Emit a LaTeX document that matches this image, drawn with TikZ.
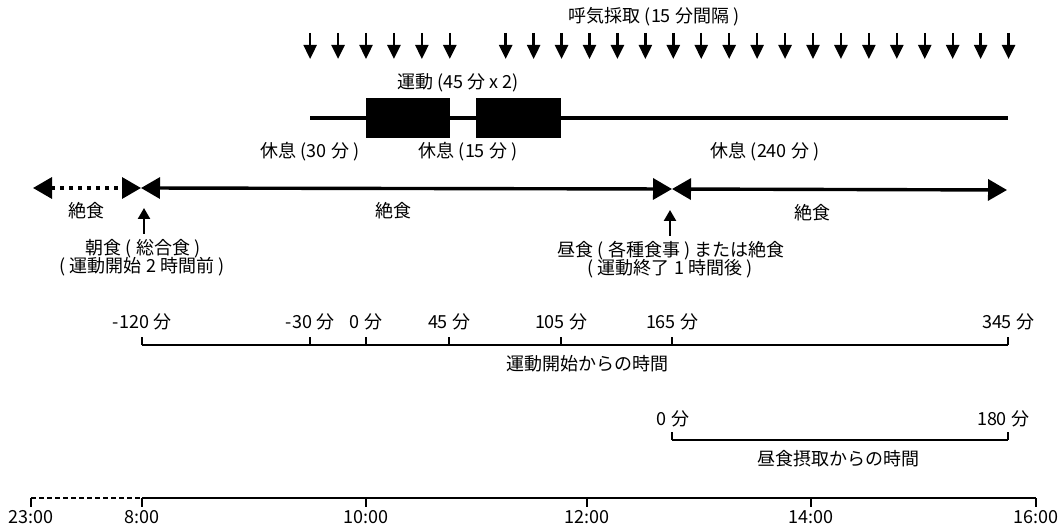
\documentclass[tikz,border=0pt]{standalone}
\usepackage{fontspec}
\setmainfont{Noto Sans CJK JP}
\usetikzlibrary{arrows.meta}
\begin{document}
\begin{tikzpicture}[x=1pt,y=-1pt,
  font=\fontsize{18}{20}\selectfont,
  lbl/.style={inner sep=0pt, anchor=center},
  samp/.style={line width=2.4pt, -{Triangle[width=13pt,length=14pt]}},
  fastline/.style={line width=3.4pt, {Triangle[width=21pt,length=19pt]}-{Triangle[width=21pt,length=19pt]}},
  fastdot/.style={fastline, dash pattern=on 4pt off 5pt},
  meal/.style={line width=2.4pt, -{Triangle[width=12pt,length=11pt]}},
  exbox/.style={fill=black, draw=none, minimum height=40pt, inner sep=0pt},
  axis/.style={line width=1.3pt},
  clockaxis/.style={line width=1.6pt},
  dashaxis/.style={line width=1.1pt, dash pattern=on 5pt off 3pt}]
\useasboundingbox (0,0) rectangle (1062,526);

% sampling arrows
\node[lbl] (samplbl) at (654,17) {呼気採取 (15 分間隔 )};
\foreach \m in {-30,-15,0,15,30,45,75,90,105,120,135,150,165,180,195,210,225,240,255,270,285,300,315,330,345}{
  \coordinate (sa\m) at ({366+1.8625*\m},33);
  \coordinate (sb\m) at ({366+1.8625*\m},59);
  \draw[samp] (sa\m) -- (sb\m);
}

% rest / exercise bar
\node[lbl] (exlbl) at (458,83) {運動 (45 分 x 2)};
\coordinate (r0) at (310,118);
\coordinate (r1) at (1008,118);
\draw[line width=4pt] (r0) -- (r1);
\node[exbox, minimum width=84pt] (ex1) at (408,118) {};
\node[exbox, minimum width=85pt] (ex2) at (518.5,118) {};
\node[lbl] (rest1) at (310,152) {休息 (30 分 )};
\node[lbl] (rest2) at (468,152) {休息 (15 分 )};
\node[lbl] (rest3) at (765,152) {休息 (240 分 )};

% fasting row
\coordinate (f0) at (33,188);
\coordinate (f1) at (141,188);
\coordinate (f2) at (672,189);
\coordinate (f3) at (1007,190);
\draw[fastdot] (f0) -- (f1);
\draw[fastline] (f1) -- (f2);
\draw[fastline] (f2) -- (f3);
\node[lbl] (fast1) at (86,211) {絶食};
\node[lbl] (fast2) at (393,211) {絶食};
\node[lbl] (fast3) at (812,213) {絶食};

% meals
\coordinate (bkA) at (144,234);
\coordinate (bkB) at (144,208);
\draw[meal] (bkA) -- (bkB);
\node[lbl] (bk1) at (143,249) {朝食 ( 総合食 )};
\node[lbl] (bk2) at (142,267) {( 運動開始 2 時間前 )};
\coordinate (luA) at (670,236);
\coordinate (luB) at (670,210);
\draw[meal] (luA) -- (luB);
\node[lbl] (lu1) at (671,251) {昼食 ( 各種食事 ) または絶食};
\node[lbl] (lu2) at (670,269) {( 運動終了 1 時間後 )};

% minutes from exercise start axis
\coordinate (m0) at (142,345);
\coordinate (m1) at (1008,345);
\draw[axis] (m0) -- (m1);
\foreach \x/\t in {142/-120 分,310/-30 分,366/0 分,449/45 分,561/105 分,672/165 分,1008/345 分}{
  \coordinate (mt\x) at (\x,345);
  \coordinate (mu\x) at (\x,337);
  \draw[axis] (mt\x) -- (mu\x);
  \node[lbl] (ml\x) at (\x,322) {\t};
}
\node[lbl] (mlab) at (587,364) {運動開始からの時間};

% minutes from lunch axis
\coordinate (l0) at (672,440);
\coordinate (l1) at (1008,440);
\draw[axis] (l0) -- (l1);
\foreach \x/\t in {672/0 分,1008/180 分}{
  \coordinate (lt\x) at (\x,440);
  \coordinate (lu\x) at (\x,432);
  \draw[axis] (lt\x) -- (lu\x);
}
\node[lbl] (ll0) at (673,419) {0 分};
\node[lbl] (ll1) at (1003,419) {180 分};
\node[lbl] (llab) at (838,459) {昼食摂取からの時間};

% clock axis
\coordinate (c0) at (31,498);
\coordinate (c1) at (142,498);
\coordinate (c2) at (1036,498);
\draw[dashaxis] (c0) -- (c1);
\draw[clockaxis] (c1) -- (c2);
\foreach \x/\t in {31/23:00,142/8:00,366/10:00,587/12:00,811/14:00,1036/16:00}{
  \coordinate (ct\x) at (\x,498);
  \coordinate (cd\x) at (\x,507);
  \draw[axis] (ct\x) -- (cd\x);
  \node[lbl] (cl\x) at (\x,517) {\t};
}
\end{tikzpicture}
\end{document}
